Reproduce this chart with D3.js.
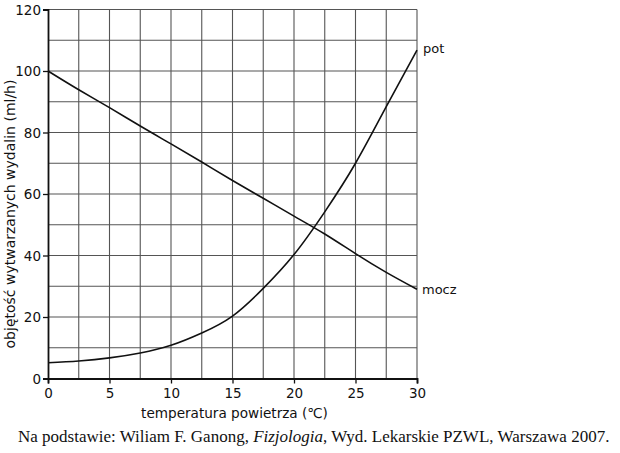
<!DOCTYPE html>
<html>
<head>
<meta charset="utf-8">
<script src="https://cdn.jsdelivr.net/npm/d3@7"></script>
<style>
  body { margin: 0; background: #fff; }
  svg text { font-family: "DejaVu Sans", sans-serif; fill: #111; }
</style>
</head>
<body>
<div id="chart"></div>
<script>
// values
const temps = [0, 2.5, 5, 7.5, 10, 12.5, 15, 17.5, 20, 22.5, 25, 27.5, 30];
const pot = [5.1, 5.7, 6.7, 8.3, 10.8, 14.8, 20.3, 29.3, 40.3, 54.2, 70, 88.4, 106.8];
const mocz = [100, 93.9, 88.1, 82.1, 76.3, 70.4, 64.4, 58.6, 52.8, 47, 40.6, 34.5, 29];
const xTicks = [0, 5, 10, 15, 20, 25, 30];
const yTicks = [0, 20, 40, 60, 80, 100, 120];

const width = 620;
const height = 453;
const plotLeft = 48, plotRight = 417, plotTop = 9.5, plotBottom = 378.5;

const x = d3.scaleLinear().domain([0, 30]).range([plotLeft, plotRight]);
const y = d3.scaleLinear().domain([0, 120]).range([plotBottom, plotTop]);

const svg = d3.select("#chart")
  .append("svg")
  .attr("width", width)
  .attr("height", height);

// grid
const grid = svg.append("g").attr("stroke", "#555").attr("stroke-width", 1.1);
grid.selectAll(".gx")
  .data(d3.range(2.5, 30.1, 2.5))
  .enter()
  .append("line")
  .attr("x1", d => x(d))
  .attr("x2", d => x(d))
  .attr("y1", plotTop)
  .attr("y2", plotBottom);
grid.selectAll(".gy")
  .data(d3.range(10, 120.1, 10))
  .enter()
  .append("line")
  .attr("x1", plotLeft)
  .attr("x2", plotRight)
  .attr("y1", d => y(d))
  .attr("y2", d => y(d));

// axes
const xAxis = d3.axisBottom(x).tickValues(xTicks).tickSize(5).tickPadding(5);
const yAxis = d3.axisLeft(y).tickValues(yTicks).tickSize(5).tickPadding(2);

const gx = svg.append("g").attr("transform", `translate(0,${plotBottom})`).call(xAxis);
const gy = svg.append("g").attr("transform", `translate(${plotLeft},0)`).call(yAxis);
[gx, gy].forEach(g => {
  g.select(".domain").attr("stroke", "#111").attr("stroke-width", 1.8);
  g.selectAll(".tick line").attr("stroke", "#111").attr("stroke-width", 1.3);
  g.selectAll(".tick text")
    .attr("font-family", "DejaVu Sans, sans-serif")
    .attr("font-size", 13.5)
    .attr("fill", "#111");
});
gy.selectAll(".tick text").attr("dy", "0.36em");

// curves
const line = d3.line()
  .x((d, i) => x(temps[i]))
  .y(d => y(d))
  .curve(d3.curveNatural);

svg.append("path")
  .attr("d", line(mocz))
  .attr("fill", "none")
  .attr("stroke", "#111")
  .attr("stroke-width", 1.6);

svg.append("path")
  .attr("d", line(pot))
  .attr("fill", "none")
  .attr("stroke", "#111")
  .attr("stroke-width", 1.6);

// series labels
svg.append("text")
  .attr("x", x(30) + 6)
  .attr("y", y(pot[pot.length - 1]) + 3)
  .attr("font-size", 13)
  .text("pot");
svg.append("text")
  .attr("x", x(30) + 5)
  .attr("y", y(mocz[mocz.length - 1]) + 5)
  .attr("font-size", 13)
  .text("mocz");

// axis titles
svg.append("text")
  .attr("x", (plotLeft + plotRight) / 2 + 2)
  .attr("y", 418)
  .attr("text-anchor", "middle")
  .attr("font-size", 13.6)
  .text("temperatura powietrza (℃)");

svg.append("text")
  .attr("transform", "translate(15,214) rotate(-90)")
  .attr("text-anchor", "middle")
  .attr("font-size", 14)
  .text("objętość wytwarzanych wydalin (ml/h)");

// source
const src = svg.append("text")
  .attr("x", 18)
  .attr("y", 442)
  .attr("font-size", 17)
  .style("font-family", "'Liberation Serif', 'Times New Roman', serif");
src.append("tspan").text("Na podstawie: Wiliam F. Ganong, ");
src.append("tspan").attr("font-style", "italic").text("Fizjologia");
src.append("tspan").text(", Wyd. Lekarskie PZWL, Warszawa 2007.");
</script>
</body>
</html>
